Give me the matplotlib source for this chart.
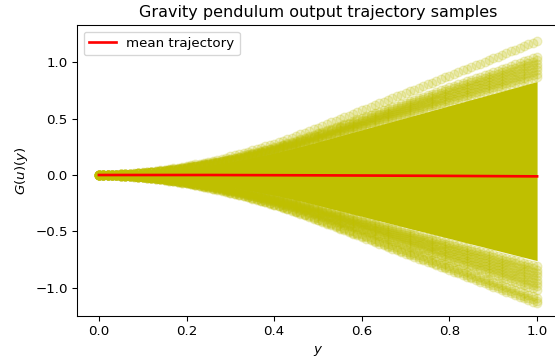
import numpy as np
import matplotlib
matplotlib.use("Agg")
import matplotlib.pyplot as plt

# sample points y in [0, 1] (step 0.01)
y_pts = np.round(np.arange(0, 1.00001, 0.01), 2)

# growth shape of a trajectory (1 at y = 1)
profile = [0.000, 0.000, 0.001, 0.002, 0.003, 0.005, 0.007, 0.010, 0.012, 0.015,
           0.019, 0.022, 0.026, 0.030, 0.034, 0.039, 0.044, 0.049, 0.054, 0.060,
           0.066, 0.072, 0.079, 0.085, 0.092, 0.099, 0.107, 0.114, 0.122, 0.130,
           0.139, 0.147, 0.156, 0.165, 0.174, 0.184, 0.194, 0.204, 0.214, 0.224,
           0.235, 0.245, 0.257, 0.268, 0.279, 0.291, 0.303, 0.315, 0.328, 0.340,
           0.353, 0.366, 0.379, 0.392, 0.405, 0.418, 0.431, 0.444, 0.457, 0.470,
           0.482, 0.495, 0.508, 0.521, 0.534, 0.547, 0.560, 0.573, 0.586, 0.599,
           0.612, 0.625, 0.638, 0.651, 0.663, 0.676, 0.689, 0.702, 0.715, 0.728,
           0.741, 0.754, 0.767, 0.780, 0.793, 0.806, 0.819, 0.831, 0.844, 0.857,
           0.870, 0.883, 0.896, 0.909, 0.922, 0.935, 0.948, 0.961, 0.974, 0.987,
           1.000]

# end values G(u)(1) of the visible outer trajectories
upper_ends = [1.19, 1.05, 1.02, 0.99, 0.96, 0.93, 0.90, 0.87]
lower_ends = [-1.14, -1.12, -1.09, -1.02, -0.99, -0.96, -0.93, -0.90, -0.87,
              -0.84, -0.81]
# solid core of the sample cloud at y = 1
core_top = 0.83
core_bottom = -0.76

# mean trajectory
mean_y = [0.0, 0.25, 0.5, 0.75, 1.0]
mean_g = [0.0, 0.0, -0.003, -0.007, -0.012]

prof = np.array(profile)
ends = np.array(upper_ends + lower_ends)
samples = np.outer(ends, prof)

fig = plt.figure(figsize=(555 / 96, 360 / 96), dpi=96)
ax = fig.add_axes([77 / 555, 44 / 360, 482 / 555, 291 / 360])

ax.fill_between(y_pts, core_bottom * prof, core_top * prof, color="y", lw=0)
for s in samples:
    ax.plot(y_pts, s, "yo", alpha=0.2, markersize=6.5)
ax.plot(mean_y, mean_g, "r-", lw=2, label="mean trajectory", zorder=5)

ax.set_xlim(-0.05, 1.05)
ax.set_ylim(-1.252, 1.332)
ax.set_xticks([0.0, 0.2, 0.4, 0.6, 0.8, 1.0])
ax.set_yticks([-1.0, -0.5, 0.0, 0.5, 1.0])
ax.set_xlabel("$y$")
ax.set_ylabel("$G(u)(y)$")
ax.set_title("Gravity pendulum output trajectory samples")
ax.legend(loc="upper left")

fig.savefig("out.png", dpi=96)
